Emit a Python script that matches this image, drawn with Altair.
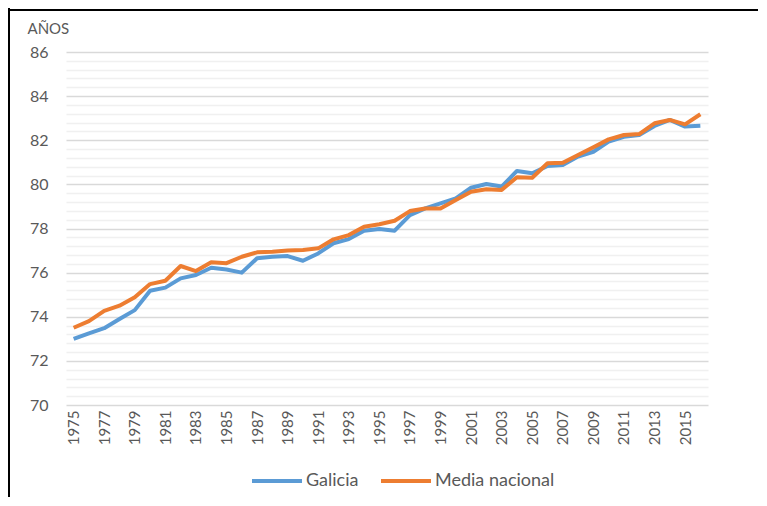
import altair as alt
import pandas as pd

years = list(range(1975, 2017))
galicia = [73.0, 73.25, 73.48, 73.9, 74.3, 75.18, 75.32, 75.74, 75.89, 76.22,
           76.14, 76.0, 76.65, 76.72, 76.75, 76.54, 76.87, 77.33, 77.52, 77.9,
           77.98, 77.9, 78.61, 78.91, 79.14, 79.37, 79.85, 80.02, 79.9, 80.61,
           80.5, 80.83, 80.88, 81.26, 81.48, 81.94, 82.16, 82.24, 82.65, 82.92,
           82.62, 82.66]
media = [73.5, 73.8, 74.27, 74.5, 74.88, 75.48, 75.63, 76.3, 76.07, 76.47,
         76.43, 76.72, 76.92, 76.95, 77.0, 77.03, 77.1, 77.51, 77.7, 78.08,
         78.19, 78.35, 78.79, 78.91, 78.91, 79.29, 79.67, 79.78, 79.75, 80.32,
         80.3, 80.96, 80.98, 81.33, 81.68, 82.04, 82.24, 82.28, 82.77, 82.92,
         82.72, 83.18]
series_names = ["Galicia", "Media nacional"]
series_colors = ["#5b9bd5", "#ed7d31"]
x_tick_years = list(range(1975, 2017, 2))
y_grid_values = [round(70 + 0.4 * i, 1) for i in range(41)]

df = pd.DataFrame({
    "year": years * 2,
    "value": galicia + media,
    "serie": [series_names[0]] * len(years) + [series_names[1]] * len(years),
})

FONT = "Lato"
GREY = "#595959"
W, H = 642, 353

major_test = "abs(datum.value - 2*round(datum.value/2)) < 0.01"

lines = alt.Chart(df).mark_line(strokeWidth=4, strokeJoin="round").encode(
    x=alt.X("year:O", scale=alt.Scale(type="point", padding=0.5),
            axis=alt.Axis(values=x_tick_years, labelAngle=-90, title=None,
                          domain=False, ticks=False, tickSize=0, labelPadding=5,
                          labelOverlap=False, labelFont=FONT, labelFontSize=15,
                          labelColor=GREY, grid=False)),
    y=alt.Y("value:Q", scale=alt.Scale(domain=[70, 86], nice=False, zero=False),
            axis=alt.Axis(values=y_grid_values, title="AÑOS", titleAngle=0,
                          titleAlign="left", titleBaseline="middle",
                          titleX=-39, titleY=-24, titleFont=FONT, titleFontSize=15,
                          titleFontWeight="normal", titleColor=GREY,
                          domain=False, ticks=False, tickSize=0, labelPadding=18,
                          labelOverlap=False, labelFont=FONT, labelFontSize=16,
                          labelColor=GREY,
                          labelExpr=f"({major_test}) ? format(datum.value, 'd') : ''",
                          grid=True,
                          gridColor={"condition": {"test": major_test, "value": "#d9d9d9"},
                                     "value": "#f0f0f0"},
                          gridWidth=1.3)),
    color=alt.Color("serie:N", scale=alt.Scale(domain=series_names, range=series_colors),
                    legend=alt.Legend(title=None, orient="none", legendX=184, legendY=402,
                                      direction="horizontal", symbolType="stroke",
                                      symbolSize=2500, symbolStrokeWidth=4,
                                      labelFont=FONT, labelFontSize=18, labelColor=GREY,
                                      labelOffset=2, columnPadding=14)),
)

frame_df = pd.DataFrame({"k": [0]})
frame_top = alt.Chart(frame_df).mark_rule(color="black", strokeWidth=2).encode(
    x=alt.value(-60), x2=alt.value(760), y=alt.value(-42))
frame_left = alt.Chart(frame_df).mark_rule(color="black", strokeWidth=2).encode(
    x=alt.value(-57), y=alt.value(-44), y2=alt.value(500))

chart = alt.layer(lines, frame_top, frame_left).properties(
    width=W, height=H,
    autosize=alt.AutoSizeParams(type="none"),
    padding={"left": 58, "top": 44, "right": 50, "bottom": 92},
).configure_view(stroke=None)

chart.save("out.html", embed_options={"renderer": "svg", "actions": False})
